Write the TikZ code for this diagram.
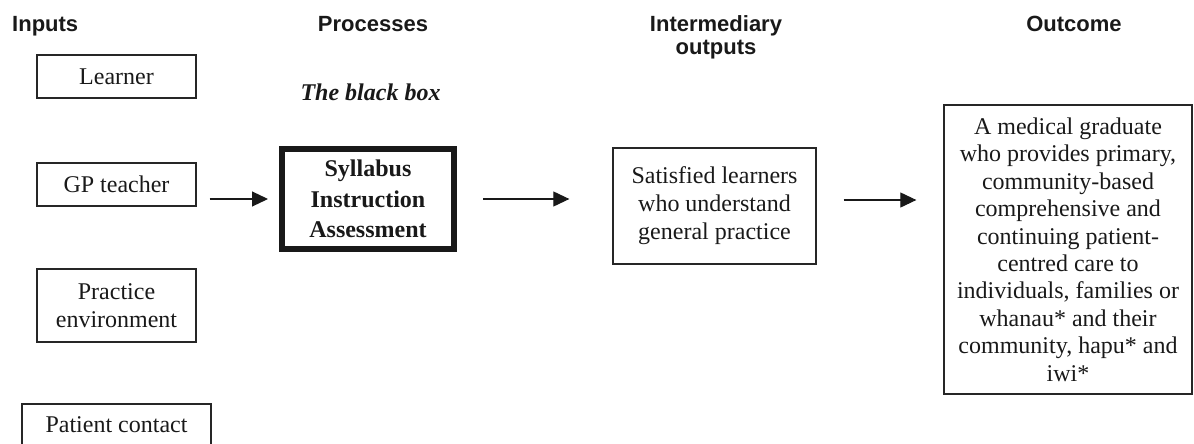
\documentclass[tikz,border=0pt]{standalone}
\usepackage{fontspec}
\setmainfont{Liberation Serif}
\setsansfont{Liberation Sans}
\usetikzlibrary{arrows.meta}
\begin{document}
\begin{tikzpicture}[x=1pt,y=-1pt,
 hdr/.style={font=\sffamily\bfseries\fontsize{22}{23}\selectfont, anchor=base, inner sep=0pt, text=black!90},
 inbox/.style={draw=black!85, line width=1.3pt, align=center, inner sep=0pt, font=\fontsize{24}{28}\selectfont, text=black!90},
 flow/.style={-{Triangle[length=16pt,width=15pt]}, line width=1.1pt, draw=black!90},
]
\useasboundingbox (0,0) rectangle (1194,444);
% headers
\node[hdr, anchor=base west] (hin) at (12,32) {Inputs};
\node[hdr] (hproc) at (373,32) {Processes};
\node[hdr] (hint1) at (716,32) {Intermediary};
\node[hdr] (hint2) at (716,55) {outputs};
\node[hdr] (hout) at (1074,32) {Outcome};
% inputs
\node[inbox, minimum width=159pt, minimum height=43pt] (learner) at (116.5,76.5) {Learner};
\node[inbox, minimum width=159pt, minimum height=43pt] (gp) at (116.5,184.5) {GP teacher};
\node[inbox, minimum width=159pt, minimum height=73pt] (prac) at (116.5,305.5) {Practice\\environment};
\node[inbox, minimum width=189pt, minimum height=42pt] (patient) at (116.5,425) {Patient contact};
% process
\node[font=\bfseries\itshape\fontsize{24}{28}\selectfont, text=black!90, inner sep=0pt] (bbl) at (370.5,92) {The black box};
\node[inbox, line width=6pt, draw=black!90, minimum width=172pt, minimum height=100pt, font=\bfseries\fontsize{24}{30.5}\selectfont] (bb) at (368,199) {Syllabus\\Instruction\\Assessment};
% intermediary
\node[inbox, minimum width=203pt, minimum height=116pt] (sat) at (714.5,206) {Satisfied learners\\who understand\\general practice};
% outcome
\node[inbox, minimum width=248pt, minimum height=289pt, font=\fontsize{24}{27.4}\selectfont] (outc) at (1068,249.5) {A medical graduate\\who provides primary,\\community-based\\comprehensive and\\continuing patient-\\centred care to\\individuals, families or\\whanau* and their\\community, hapu* and\\iwi*};
% connectors
\draw[flow, shorten <=13pt, shorten >=11pt] (gp.east |- bb.west) -- (bb.west);
\draw[flow, shorten <=26pt, shorten >=43pt] (bb.east) -- (bb.east -| sat.west);
\draw[flow, shorten <=27pt, shorten >=27pt] (sat.east |- 0,200) -- (outc.west |- 0,200);
\end{tikzpicture}
\end{document}
